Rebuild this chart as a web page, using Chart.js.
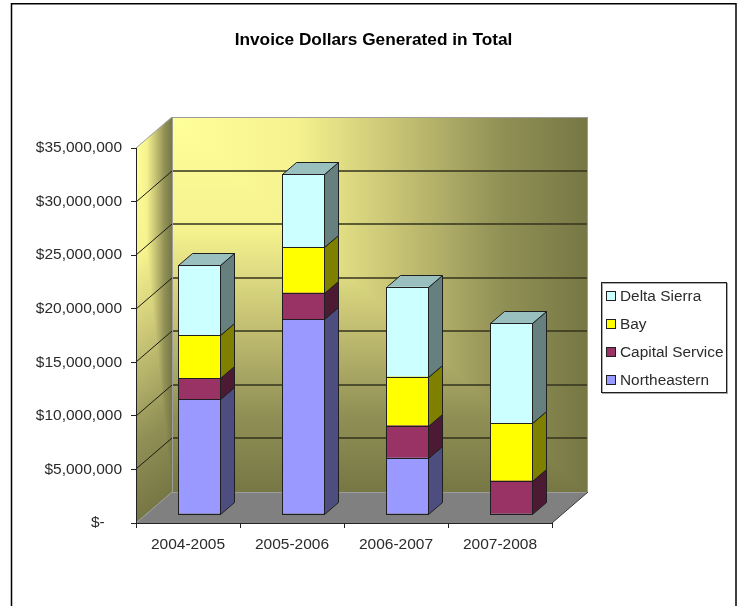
<!DOCTYPE html>
<html>
<head>
<meta charset="utf-8">
<title>Invoice Dollars Generated in Total</title>
<script src="https://cdn.jsdelivr.net/npm/chart.js@4/dist/chart.umd.min.js"></script>
<style>
  body { margin: 0; background: #fff; }
  canvas { display: block; }
</style>
</head>
<body>
<canvas id="invoiceChart" width="742" height="606"></canvas>
<script>
  // Data
  const years = ["2004-2005", "2005-2006", "2006-2007", "2007-2008"];
  const northeastern = [10700000, 18200000, 5250000, 0];
  const capitalService = [2000000, 2450000, 3000000, 3100000];
  const bay = [4000000, 4270000, 4570000, 5360000];
  const deltaSierra = [6500000, 6780000, 8400000, 9330000];
  const yTickLabels = ["$-", "$5,000,000", "$10,000,000", "$15,000,000", "$20,000,000", "$25,000,000", "$30,000,000", "$35,000,000"];

  const FONT = "'Liberation Sans', Arial, sans-serif";
  const TEXT = "#2b2b2b";
  const WALL_DX = 36, WALL_DY = 31;   // depth of the box
  const BAR_DX = 11, BAR_DY = 9;      // bars stand inside the box
  const SIDE_DX = 14, SIDE_DY = 12;   // depth of each bar

  const wallStops = [[0, "#FFFF99"], [0.3, "#F5F28F"], [0.55, "#C5C173"], [0.8, "#8F8F55"], [1, "#777745"]];

  function shade(hex, f) {
    const n = parseInt(hex.slice(1), 16);
    const c = [n >> 16, (n >> 8) & 255, n & 255].map(v => Math.round(v * f));
    return `rgb(${c[0]},${c[1]},${c[2]})`;
  }

  function poly(ctx, pts, fill, stroke, width) {
    ctx.beginPath();
    pts.forEach(([x, y], i) => i ? ctx.lineTo(x, y) : ctx.moveTo(x, y));
    ctx.closePath();
    if (fill) { ctx.fillStyle = fill; ctx.fill(); }
    if (stroke) { ctx.strokeStyle = stroke; ctx.lineWidth = width || 1; ctx.stroke(); }
  }

  // Excel "from corner" fill, painted in a unit square mapped on the wall
  function cornerFill(ctx, a, b, c, d, e, f) {
    const grad = (x, y) => {
      const g = ctx.createLinearGradient(0, 0, x, y);
      wallStops.forEach(([o, col]) => g.addColorStop(o, col));
      return g;
    };
    ctx.save();
    ctx.transform(a, b, c, d, e, f);
    ctx.fillStyle = grad(1, 0);
    ctx.fillRect(0, 0, 1, 1);
    ctx.beginPath();
    ctx.moveTo(0, 0);
    ctx.lineTo(1, 1);
    ctx.lineTo(0, 1);
    ctx.closePath();
    ctx.fillStyle = grad(0, 1);
    ctx.fill();
    ctx.restore();
  }

  const boxPlugin = {
    id: "box3d",
    afterLayout(chart) {
      // title is centred on the whole sheet, not on the plot
      chart.titleBlock.left = 5;
      chart.titleBlock.right = 742;
    },
    beforeDraw(chart) {
      const { ctx, chartArea: { left, right, top, bottom }, scales: { y } } = chart;
      const h = bottom - top;

      // outer frame of the sheet
      ctx.save();
      ctx.strokeStyle = "#000";
      ctx.lineWidth = 1.5;
      ctx.beginPath();
      ctx.moveTo(11.5, 606);
      ctx.lineTo(11.5, 3.75);
      ctx.lineTo(736, 3.75);
      ctx.lineTo(736, 606);
      ctx.stroke();

      // walls and floor
      cornerFill(ctx, right - left, 0, 0, h, left + WALL_DX, top - WALL_DY);
      cornerFill(ctx, WALL_DX, -WALL_DY, 0, h, left, top);
      poly(ctx, [[left, bottom], [left + WALL_DX, bottom - WALL_DY], [right + WALL_DX, bottom - WALL_DY], [right, bottom]], "#808080");

      // gridlines, from the value axis
      y.ticks.forEach(t => {
        if (t.value === 0 || t.value === y.max) return;
        const py = Math.round(y.getPixelForValue(t.value));
        ctx.strokeStyle = "#33331c";
        ctx.lineWidth = 1.5;
        ctx.beginPath();
        ctx.moveTo(left + WALL_DX, py - WALL_DY);
        ctx.lineTo(right + WALL_DX, py - WALL_DY);
        ctx.stroke();
        ctx.strokeStyle = "#1c1c10";
        ctx.lineWidth = 1;
        ctx.beginPath();
        ctx.moveTo(left, py);
        ctx.lineTo(left + WALL_DX, py - WALL_DY);
        ctx.stroke();
      });

      // wall edges
      ctx.strokeStyle = "#9c9c9c";
      ctx.lineWidth = 1;
      ctx.strokeRect(left + WALL_DX + 0.5, top - WALL_DY + 0.5, right - left - 1, h);
      ctx.beginPath();
      ctx.moveTo(left, top);
      ctx.lineTo(left + WALL_DX, top - WALL_DY);
      ctx.moveTo(left, bottom);
      ctx.lineTo(left + WALL_DX, bottom - WALL_DY);
      ctx.stroke();
      ctx.strokeStyle = "#3a3a3a";
      ctx.beginPath();
      ctx.moveTo(right, bottom);
      ctx.lineTo(right + WALL_DX, bottom - WALL_DY);
      ctx.stroke();
      ctx.restore();
    },
    beforeDatasetsDraw(chart) {
      const { ctx } = chart;
      ctx.save();
      ctx.translate(BAR_DX, -BAR_DY);
      chart.data.datasets.forEach((ds, i) => {
        chart.getDatasetMeta(i).data.forEach(el => {
          if (el.base - el.y < 0.5) return;
          const r = Math.round(el.x + el.width / 2) + 0.5;
          const t = Math.round(el.y) + 0.5, b = Math.round(el.base) + 0.5;
          poly(ctx, [[r, t], [r + SIDE_DX, t - SIDE_DY], [r + SIDE_DX, b - SIDE_DY], [r, b]], shade(ds.backgroundColor, 0.5), "#1f1f1f");
          if (i === chart.data.datasets.length - 1) {
            const l = Math.round(el.x - el.width / 2) + 0.5;
            poly(ctx, [[l, t], [l + SIDE_DX, t - SIDE_DY], [r + SIDE_DX, t - SIDE_DY], [r, t]], shade(ds.backgroundColor, 0.75), "#1f1f1f");
          }
        });
      });
    },
    afterDatasetsDraw(chart) {
      const { ctx } = chart;
      chart.data.datasets.forEach((ds, i) => {
        chart.getDatasetMeta(i).data.forEach(el => {
          if (el.base - el.y < 0.5) return;
          const l = Math.round(el.x - el.width / 2) + 0.5, r = Math.round(el.x + el.width / 2) + 0.5;
          const t = Math.round(el.y) + 0.5, b = Math.round(el.base) + 0.5;
          ctx.strokeStyle = "#1f1f1f";
          ctx.lineWidth = 1;
          ctx.strokeRect(l, t, r - l, b - t);
        });
      });
      ctx.restore();
    },
    afterDraw(chart) {
      // legend box to the right of the plot
      const { ctx } = chart;
      ctx.save();
      ctx.fillStyle = "#fff";
      ctx.fillRect(601, 282, 126, 111);
      ctx.strokeStyle = "#a8a8a8";
      ctx.strokeRect(602.5, 283.5, 125, 110);
      ctx.strokeStyle = "#1f1f1f";
      ctx.strokeRect(601.5, 282.5, 125, 110);
      ctx.font = `15.4px ${FONT}`;
      ctx.textBaseline = "middle";
      [...chart.data.datasets].reverse().forEach((ds, i) => {
        const y = 296 + i * 28;
        ctx.fillStyle = ds.backgroundColor;
        ctx.fillRect(606, y - 4, 9, 9);
        ctx.strokeRect(606.5, y - 4.5, 9, 9);
        ctx.fillStyle = TEXT;
        ctx.fillText(ds.label, 620, y + 1);
      });
      ctx.restore();
    }
  };

  const barOpts = { borderWidth: 0, clip: false, categoryPercentage: 1, barPercentage: 0.404 };

  new Chart(document.getElementById("invoiceChart"), {
    type: "bar",
    plugins: [boxPlugin],
    data: {
      labels: years,
      datasets: [
        { label: "Northeastern", data: northeastern, backgroundColor: "#9999FF", ...barOpts },
        { label: "Capital Service", data: capitalService, backgroundColor: "#993366", ...barOpts },
        { label: "Bay", data: bay, backgroundColor: "#FFFF00", ...barOpts },
        { label: "Delta Sierra", data: deltaSierra, backgroundColor: "#CCFFFF", ...barOpts }
      ]
    },
    options: {
      responsive: false,
      animation: false,
      layout: { padding: { right: 190 } },
      plugins: {
        legend: { display: false },
        tooltip: { enabled: false },
        title: {
          display: true,
          text: "Invoice Dollars Generated in Total",
          color: "#000",
          font: { family: FONT, size: 17.25, weight: "bold", lineHeight: "20px" },
          padding: { top: 30, bottom: 98 }
        }
      },
      scales: {
        x: {
          stacked: true,
          afterFit: s => { s.height = 83; },
          grid: { drawOnChartArea: false, drawTicks: true, tickLength: 5, color: "#222", offset: true },
          border: { color: "#222" },
          ticks: { color: TEXT, padding: 7, maxRotation: 0, font: { family: FONT, size: 15.5 } }
        },
        y: {
          stacked: true,
          min: 0,
          max: 35000000,
          afterFit: s => { s.width = 136; },
          grid: { drawOnChartArea: false, drawTicks: true, tickLength: 5, color: "#222" },
          border: { color: "#222" },
          ticks: {
            stepSize: 5000000,
            color: TEXT,
            padding: 9,
            font: { family: FONT, size: 15.5 },
            // the accounting format leaves "$-" short of the right edge
            callback: (v, i) => i === 0 ? yTickLabels[i] + "    " : yTickLabels[i]
          }
        }
      }
    }
  });
</script>
</body>
</html>
